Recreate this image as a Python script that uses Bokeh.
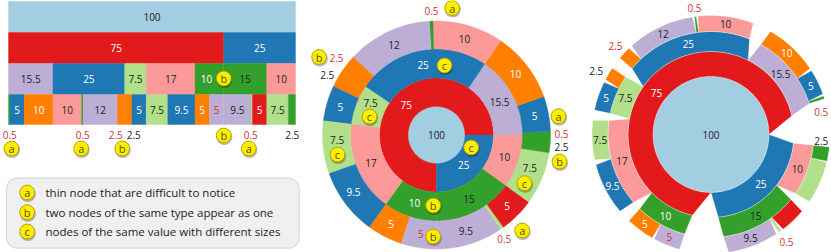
import math
from bokeh.plotting import figure
from bokeh.models import Range1d, ColumnDataSource
from bokeh.embed import file_html
from bokeh.resources import INLINE
from bokeh.core.properties import value

# ---------- data ----------
C = dict(lb="#a3cde1", r="#e31a1c", bl="#1f78b4", pu="#bcaed5", lg="#b2df8a", pk="#fb9a99", g="#33a02c", o="#ff7f00")
root_value = [100]
l2_values = [75, 25]
l2_colors = ["r", "bl"]
l3_values = [15.5, 25, 7.5, 17, 10, 15, 10]
l3_colors = ["pu", "bl", "lg", "pk", "g", "g", "pk"]
l3_parent = [0, 0, 0, 0, 0, 1, 1]
l4_values = [0.5, 5, 10, 10, 0.5, 12, 2.5, 2.5, 5, 7.5, 9.5, 5, 5, 9.5, 0.5, 5, 7.5, 2.5]
l4_colors = ["g", "bl", "o", "pk", "g", "pu", "o", "o", "bl", "lg", "bl", "o", "pu", "pu", "lg", "r", "lg", "g"]
l4_parent = [0, 0, 0, 1, 1, 1, 1, 2, 2, 3, 3, 4, 4, 5, 5, 5, 6, 6]
legend_keys = ["a", "b", "c"]
legend_texts = ["thin node that are difficult to notice",
                "two nodes of the same type appear as one",
                "nodes of the same value with different sizes"]

# ---------- layout ----------
W, H = 831, 252
FONT = "Open Sans"
FS = "10px"
RED_T, DARK_T = "#d1343a", "#222222"
ICI_X, ICI_W = 8, 2.87
ICI_ROWS = [1, 32, 63, 94, 124]
SUN_C = (436, 134.5)
SUN_R = [0, 28.5, 57, 86, 114]
SPC_C = (710.5, 134)
SPC_R = [0, 58, 83, 103, 119]
l2_pads = [(13, 13), (5, 6)]
l3_pads = [(4.5, 2.4), (4.6, 4.7), (1.3, 1), (3, 3.3), (1.7, 1.8), (2, 1.5), (2.6, 0)]
l4_pads = [(0, 0), (1, 0.5), (0.8, 1), (1.2, 0.5), (0.3, 0.3), (0.7, 1), (0.7, 0), (0, 1),
           (0.5, 0), (1, 1.5), (1, 1), (0.3, 0.3), (0.8, 0.5), (1.5, 1.5), (0, 0), (1, 1), (0.6, 0.3), (0.3, 0)]
# per-node text: None hides a label that is placed outside or absent
ici_l4_lab = [None, "5", "10", "10", None, "12", None, None, "5", "7.5", "9.5", "5", "5", "9.5", None, "5", "7.5", None]
spc_l4_lab = [None, "5", "10", "10", None, "12", None, None, "5", "7.5", "9.5", "5", "5", "9.5", None, None, None, None]
sun_l4_lab = [None, "5", "10", "10", None, "12", None, None, "5", "7.5", "9.5", "5", "5", "9.5", None, "5", "7.5", None]
WHITE_T = {"r", "bl", "o"}
RED_LABEL_PURPLE5 = 12  # index of the purple 5 whose label is red
WHITE_GREEN = 4          # index of the green 10 whose label is white
# label nudges in pixels, keyed by (chart, level, node index)
nudges = {
    ("ici", 2, 4): (-3, 0),
    ("sun", 2, 2): (1, -7), ("sun", 3, 9): (0, -5.5), ("sun", 3, 16): (1, -5), ("sun", 3, 10): (-3, -3),
    ("sun", 1, 1): (-3, 0),
    ("spc", 1, 0): (-4.6, 8.8), ("spc", 2, 0): (-3.5, -2.5),
}
outside = [  # x, y, text, colour
    (9.3, 134, "0.5", RED_T), (82.3, 134, "0.5", RED_T), (115.3, 134, "2.5", RED_T), (133.3, 134, "2.5", DARK_T),
    (250.3, 134, "0.5", RED_T), (291.7, 134, "2.5", DARK_T),
    (431, 10, "0.5", RED_T), (336, 57.7, "2.5", RED_T), (326.7, 74, "2.5", DARK_T), (561, 133, "0.5", RED_T),
    (561, 146, "2.5", DARK_T), (503.7, 238, "0.5", RED_T),
    (694, 7, "0.5", RED_T), (615, 45, "2.5", RED_T), (595.7, 70, "2.5", DARK_T), (820.7, 111.7, "0.5", RED_T),
    (820.7, 140, "2.5", DARK_T), (786, 241.7, "0.5", RED_T),
]
badges = [
    (11, 148, "a"), (80.7, 148, "a"), (121.7, 148, "b"), (223.3, 135, "b"), (248.3, 148, "a"), (223.3, 78, "b"),
    (451.7, 7.5, "a"), (318.7, 56.5, "b"), (558, 115.7, "a"), (559, 161, "b"), (444, 65, "c"), (369, 116, "c"),
    (337, 154, "c"), (470.7, 147, "c"), (524, 182.7, "c"), (432.7, 205, "b"), (432.7, 236, "b"), (521.7, 230, "a"),
]
LEG_X, LEG_YS, LEG_TX = 26.7, [192, 211.7, 231], 45
LEG_BOX = (6, 298.7, 177.7, 247.7, 11)

p = figure(width=W, height=H, x_range=Range1d(0, W), y_range=Range1d(H, 0), output_backend="svg",
           toolbar_location=None, x_axis_type=None, y_axis_type=None, min_border=0,
           outline_line_color=None, background_fill_color="white", border_fill_color="white")
p.grid.visible = False

labels = []  # x, y, text, colour


def lab(x, y, t, fill, col=None, key=None):
    if col is None:
        col = "#ffffff" if fill in WHITE_T else DARK_T
    dx, dy = nudges.get(key, (0, 0))
    labels.append((x + dx, y + dy, t, col))


def l4_col(i):
    return RED_T if i == RED_LABEL_PURPLE5 else None


def l3_col(i):
    return "#ffffff" if i == WHITE_GREEN else None


def add_polys(polys, seams=False):
    xs = [q[0] for q in polys]
    ys = [q[1] for q in polys]
    cols = [q[2] for q in polys]
    if seams:
        p.patches(xs, ys, fill_color=cols, line_color="white", line_width=0.5, line_alpha=0.6)
    else:
        p.patches(xs, ys, fill_color=cols, line_color=cols, line_width=0.4)


def ring(c, r0, r1, a0, a1, b0, b1):
    n = max(2, int(abs(a1 - a0) / 2) + 2)
    m = max(2, int(abs(b1 - b0) / 2) + 2)
    xs, ys = [], []
    if r0 > 0:
        for i in range(n):
            t = math.radians(a0 + (a1 - a0) * i / (n - 1))
            xs.append(c[0] + r0 * math.cos(t)); ys.append(c[1] - r0 * math.sin(t))
    for i in range(m):
        t = math.radians(b1 + (b0 - b1) * i / (m - 1))
        xs.append(c[0] + r1 * math.cos(t)); ys.append(c[1] - r1 * math.sin(t))
    return xs, ys


def polar(c, r, a):
    t = math.radians(a)
    return c[0] + r * math.cos(t), c[1] - r * math.sin(t)


def cums(vals):
    out, s = [], 0
    for v in vals:
        out.append((s, s + v)); s += v
    return out


# ---------- icicle ----------
rects = []
def row(vals, cols, ri, texts, colfn=lambda i: None):
    y0, y1 = ICI_ROWS[ri], ICI_ROWS[ri + 1]
    for i, ((a, b), col, t) in enumerate(zip(cums(vals), cols, texts)):
        x0, x1 = ICI_X + a * ICI_W, ICI_X + b * ICI_W
        rects.append(([x0, x1, x1, x0], [y0, y0, y1, y1], C[col]))
        if t:
            lab((x0 + x1) / 2, (y0 + y1) / 2, t, col, colfn(i), ("ici", ri, i))

row(root_value, ["lb"], 0, ["100"])
row(l2_values, l2_colors, 1, ["75", "25"])
row(l3_values, l3_colors, 2, [str(v) for v in l3_values], l3_col)
row(l4_values, l4_colors, 3, ici_l4_lab, l4_col)
add_polys(rects)

# ---------- sunburst ----------
polys = []
c = SUN_C
k = 3.6
xs, ys = ring(c, 0, SUN_R[1], 0, 0, 0, 360)
polys.append((xs, ys, C["lb"]))
lab(c[0], c[1], "100", "lb")
for ri, vals, cols, texts, colfn in ((1, l2_values, l2_colors, ["75", "25"], lambda i: None),
                                     (2, l3_values, l3_colors, [str(v) for v in l3_values], l3_col),
                                     (3, l4_values, l4_colors, sun_l4_lab, l4_col)):
    for i, ((a, b), col, t) in enumerate(zip(cums(vals), cols, texts)):
        xs, ys = ring(c, SUN_R[ri], SUN_R[ri + 1], a * k, b * k, a * k, b * k)
        polys.append((xs, ys, C[col]))
        if t:
            x, y = polar(c, (SUN_R[ri] + SUN_R[ri + 1]) / 2, (a + b) / 2 * k)
            lab(x, y, t, col, colfn(i), ("sun", ri, i))
add_polys(polys)

# ---------- space-filling wedge chart ----------
polys = []
c = SPC_C
xs, ys = ring(c, 0, SPC_R[1], 0, 0, 0, 360)
polys.append((xs, ys, C["lb"]))
lab(c[0], c[1], "100", "lb")


def children(vals, cols, parents, parent_arcs, pads, ri, texts, colfn=lambda i: None):
    out = []
    for pi, (s, e) in enumerate(parent_arcs):
        idx = [i for i, q in enumerate(parents) if q == pi]
        total = sum(vals[i] for i in idx)
        cur = s
        for i in idx:
            span = (e - s) * vals[i] / total
            a0, a1 = cur, cur + span
            cur = a1
            b0, b1 = a0 + pads[i][0], a1 - pads[i][1]
            xs, ys = ring(c, SPC_R[ri], SPC_R[ri + 1], a0, a1, b0, b1)
            polys.append((xs, ys, C[cols[i]]))
            out.append((i, b0, b1))
            if texts[i]:
                x, y = polar(c, (SPC_R[ri] + SPC_R[ri + 1]) / 2, (a0 + a1) / 2)
                lab(x, y, texts[i], cols[i], colfn(i), ("spc", ri, i))
    out.sort()
    return [(u, w) for _, u, w in out]


arcs2 = children(l2_values, l2_colors, [0, 0], [(0, 360)], l2_pads, 1, ["75", "25"])
arcs3 = children(l3_values, l3_colors, l3_parent, arcs2, l3_pads, 2, [str(v) for v in l3_values], l3_col)
children(l4_values, l4_colors, l4_parent, arcs3, l4_pads, 3, spc_l4_lab, l4_col)
add_polys(polys, seams=True)

# ---------- legend box ----------
x0, x1, y0, y1, rr = LEG_BOX
bx, by = [], []
for cx, cy, s in ((x1 - rr, y0 + rr, 0), (x0 + rr, y0 + rr, 90), (x0 + rr, y1 - rr, 180), (x1 - rr, y1 - rr, 270)):
    for i in range(10):
        qx, qy = polar((cx, cy), rr, s + 10 * i)
        bx.append(qx); by.append(qy)
p.patch(bx, by, fill_color="#f0f0f0", line_color="#d9d9d9", line_width=1.2)

# ---------- badges ----------
all_badges = badges + [(LEG_X, y, t) for y, t in zip(LEG_YS, legend_keys)]
bxs = [b[0] for b in all_badges]
bys = [b[1] for b in all_badges]
bts = [b[2] for b in all_badges]
p.circle([x + 0.6 for x in bxs], [y + 1.6 for y in bys], radius=8, fill_color="#000000", fill_alpha=0.28, line_color=None)
p.circle(bxs, bys, radius=7.4, fill_color="#fdee00", line_color="#b5a400", line_width=1)
p.text(bxs, bys, text=bts, text_font=value(FONT), text_font_size="11px", text_color="#5a5200",
       text_align="center", text_baseline="middle")

# ---------- texts ----------
labels += outside
src = ColumnDataSource(dict(x=[l[0] for l in labels], y=[l[1] for l in labels],
                            t=[l[2] for l in labels], c=[l[3] for l in labels]))
p.text("x", "y", text="t", source=src, text_color="c", text_font=value(FONT), text_font_size=FS,
       text_align="center", text_baseline="middle")
p.text([LEG_TX] * 3, LEG_YS, text=legend_texts, text_font=value(FONT), text_font_size="11.5px",
       text_color="#222222", text_align="left", text_baseline="middle")

open("out.html", "w").write(file_html(p, INLINE))
